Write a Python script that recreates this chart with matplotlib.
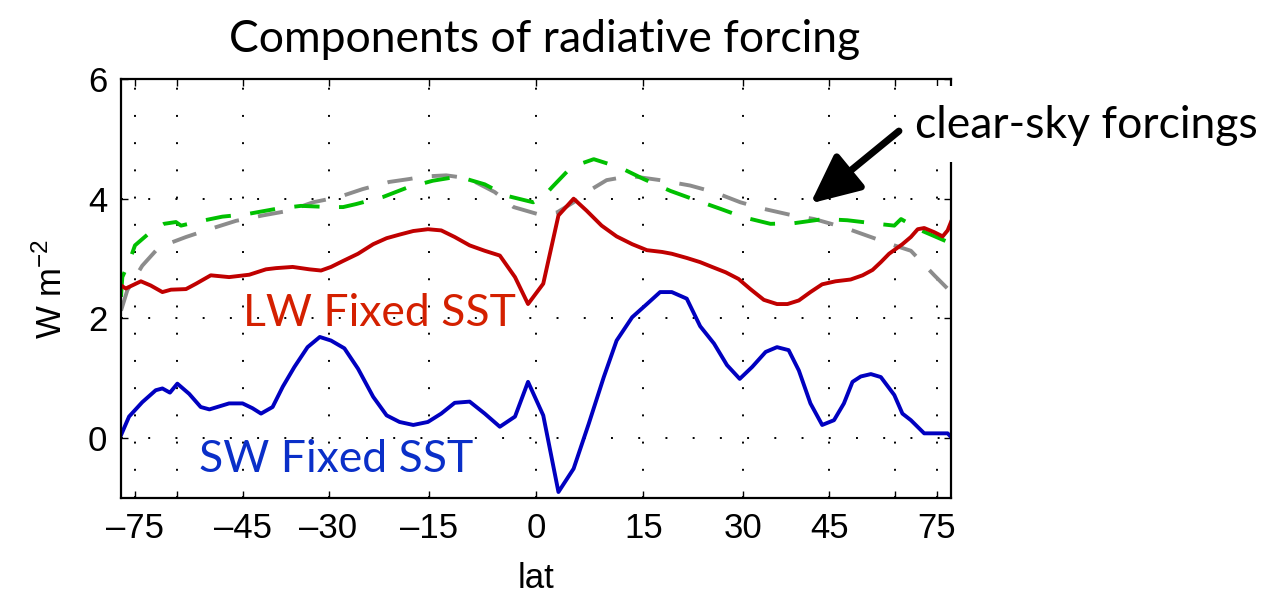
import numpy as np
import matplotlib
matplotlib.use('Agg')
import matplotlib.pyplot as plt
from matplotlib.patches import Rectangle

plt.rcParams['font.family'] = ['Liberation Sans', 'DejaVu Sans']
plt.rcParams['mathtext.fontset'] = 'custom'
plt.rcParams['mathtext.rm'] = 'Liberation Sans'
plt.rcParams['mathtext.it'] = 'Liberation Sans'

# latitude (deg) and forcing (W m-2) for each curve
sw_lat = [-90, -78.7, -71.6, -66.4, -64.2, -61.9, -59.8, -56.7, -53.9, -51.9, -47.7, -45.0,
          -43.1, -41.5, -39.4, -37.6, -35.6, -33.4, -31.4, -29.6, -27.5, -25.4, -23.1, -21.1,
          -19.2, -17.2, -15.1, -13.2, -11.3, -9.2, -7.1, -5.0, -2.9, -1.1, 1.0, 3.1, 5.2, 7.3,
          9.4, 11.2, 13.4, 15.5, 17.4, 19.1, 21.3, 23.3, 25.4, 27.4, 29.4, 31.4, 33.6, 35.5,
          37.5, 39.3, 41.4, 43.6, 45.9, 47.9, 49.7, 51.5, 53.8, 56.2, 59.7, 62.0, 64.6, 69.3,
          75.5, 82.7, 90]
sw_val = [0.05, 0.36, 0.6, 0.8, 0.83, 0.76, 0.91, 0.74, 0.52, 0.48, 0.58, 0.58,
          0.5, 0.41, 0.52, 0.86, 1.19, 1.52, 1.69, 1.63, 1.5, 1.16, 0.69, 0.38,
          0.27, 0.22, 0.27, 0.41, 0.59, 0.61, 0.41, 0.19, 0.36, 0.94, 0.38, -0.9, -0.51, 0.24,
          1.02, 1.63, 2.02, 2.24, 2.44, 2.44, 2.33, 1.87, 1.58, 1.22, 0.99, 1.19, 1.44, 1.52,
          1.47, 1.13, 0.58, 0.22, 0.3, 0.58, 0.94, 1.03, 1.07, 1.02, 0.72, 0.41, 0.3, 0.08,
          0.08, 0.08, 0.02]

lw_lat = [-90, -81.3, -72.2, -68.2, -64.2, -61.6, -57.5, -55.0, -51.6, -47.7, -43.7, -40.6,
          -38.8, -35.9, -33.1, -31.2, -29.6, -27.7, -25.4, -23.1, -21.1, -19.2, -17.2, -15.1,
          -13.2, -11.3, -9.2, -7.1, -5.0, -2.9, -1.1, 1.0, 3.1, 5.2, 7.0, 9.1, 11.2, 13.4,
          15.5, 17.7, 19.1, 21.3, 23.3, 25.1, 27.2, 29.2, 31.1, 33.3, 35.5, 37.3, 39.3, 41.4,
          43.6, 46.2, 49.3, 51.9, 54.2, 56.2, 58.3, 62.0, 64.6, 66.9, 69.3, 73.7, 78.5, 82.7, 90]
lw_val = [2.55, 2.5, 2.62, 2.55, 2.44, 2.48, 2.49, 2.58, 2.72, 2.69, 2.73, 2.82,
          2.84, 2.86, 2.82, 2.8, 2.86, 2.96, 3.08, 3.24, 3.34, 3.4, 3.46, 3.49,
          3.47, 3.36, 3.22, 3.13, 3.05, 2.69, 2.24, 2.58, 3.72, 4.0, 3.8, 3.55, 3.37, 3.24,
          3.14, 3.11, 3.08, 3.01, 2.94, 2.86, 2.77, 2.66, 2.49, 2.31, 2.24, 2.24, 2.3, 2.44,
          2.57, 2.62, 2.65, 2.72, 2.81, 2.94, 3.08, 3.24, 3.36, 3.49, 3.51, 3.44, 3.37, 3.47, 3.61]

clr_lat = [-90, -85.5, -78.7, -75.1, -67.6, -63.7, -60.2, -58.8, -55.0, -49.1, -44.3, -38.8,
           -34.5, -29.8, -27.7, -25.7, -21.6, -18.2, -14.4, -10.8, -7.1, -4.1, -0.4, 1.0,
           2.2, 4.9, 8.0, 11.7, 15.0, 18.9, 22.3, 26.4, 30.0, 34.4, 38.4, 43.9, 48.6, 55.4,
           59.7, 61.6, 68.1, 81.1, 90]
clr_val = [2.36, 2.69, 2.94, 3.22, 3.47, 3.58, 3.61, 3.55, 3.61, 3.7, 3.74, 3.83,
           3.88, 3.86, 3.86, 3.91, 4.03, 4.18, 4.3, 4.37, 4.24, 4.05, 3.94, 4.03,
           4.19, 4.53, 4.66, 4.52, 4.33, 4.13, 3.99, 3.83, 3.69, 3.58, 3.59, 3.66, 3.64, 3.58,
           3.55, 3.66, 3.47, 3.29, 3.3]

clr2_lat = [-90, -80.0, -71.6, -65.3, -57.5, -51.9, -46.3, -41.2, -36.5, -32.5, -28.3, -24.7,
            -20.7, -17.7, -15.8, -12.5, -9.4, -5.7, -3.1, 0.6, 2.9, 5.2, 7.3, 9.8, 13.1,
            17.4, 21.8, 25.4, 29.5, 33.3, 37.8, 42.1, 47.9, 53.0, 59.7, 64.6, 73.7, 90]
clr2_val = [2.13, 2.47, 2.88, 3.19, 3.36, 3.49, 3.63, 3.72, 3.8, 3.94, 4.03, 4.16,
            4.28, 4.33, 4.37, 4.39, 4.34, 4.11, 3.86, 3.73, 3.77, 3.94, 4.13, 4.31, 4.38,
            4.31, 4.22, 4.11, 3.94, 3.83, 3.73, 3.66, 3.52, 3.38, 3.22, 3.13, 2.72, 2.44]

tick_lat = [-75, -60, -45, -30, -15, 0, 15, 30, 45, 60, 75]
tick_text = ['\u201375', '', '\u201345', '\u201330', '\u201315', '0', '15', '30', '45', '', '75']


def slat(lat):
    # area-weighted latitude axis
    return np.sin(np.radians(lat))


fig = plt.figure(figsize=(12.82, 5.92), dpi=100)
ax = fig.add_axes([0.0944, 0.1588, 0.6474, 0.7078])

dash = (6.5, 5.0)
lw = 2.8
ax.plot(slat(clr2_lat), clr2_val, color='#8c8c8c', lw=lw, dashes=dash)
ax.plot(slat(clr_lat), clr_val, color='#00c000', lw=lw, dashes=dash)
ax.plot(slat(lw_lat), lw_val, color='#c00000', lw=lw)
ax.plot(slat(sw_lat), sw_val, color='#0000c0', lw=lw)

ax.set_xlim(-1, 1)
ax.set_ylim(-1, 6)
ax.set_xticks(slat(tick_lat))
ax.set_xticklabels(tick_text)
ax.set_yticks([0, 2, 4, 6])
ax.tick_params(direction='in', length=5, width=1, top=True, right=True,
               labelsize=25, pad=10)
ax.grid(True, color='black', lw=1.4, linestyle=(0, (1, 13)))
for sp in ax.spines.values():
    sp.set_linewidth(1.6)

ax.set_xlabel('lat', fontsize=25, labelpad=12)
ax.set_ylabel(r'W m$^{-2}$', fontsize=25, labelpad=14)

ax.text(slat(-45.0), 1.87, 'LW Fixed SST', family='Lato', fontsize=32,
        color='#d42000', va='baseline')
ax.text(slat(-54.3), -0.57, 'SW Fixed SST', family='Lato', fontsize=32,
        color='#0a2fc8', va='baseline')

fig.text(0.425, 0.912, 'Components of radiative forcing', family='Lato',
         fontsize=32, ha='center', va='baseline')

# white panel behind the annotation hides the top-right corner of the frame
fig.add_artist(Rectangle((0.7075, 0.7264), 0.29, 0.128, transform=fig.transFigure,
                         facecolor='white', edgecolor='none', zorder=5))
fig.text(0.7137, 0.767, 'clear-sky forcings', family='Lato', fontsize=32,
         va='baseline', zorder=6)
ax.annotate('', xy=(slat(41.4), 3.92), xytext=(slat(61.0), 5.13),
            arrowprops=dict(arrowstyle='-|>,head_length=3.0,head_width=1.4',
                            lw=5, color='black', shrinkA=0, shrinkB=0),
            zorder=7, annotation_clip=False)

fig.savefig('out.png', dpi=100)
